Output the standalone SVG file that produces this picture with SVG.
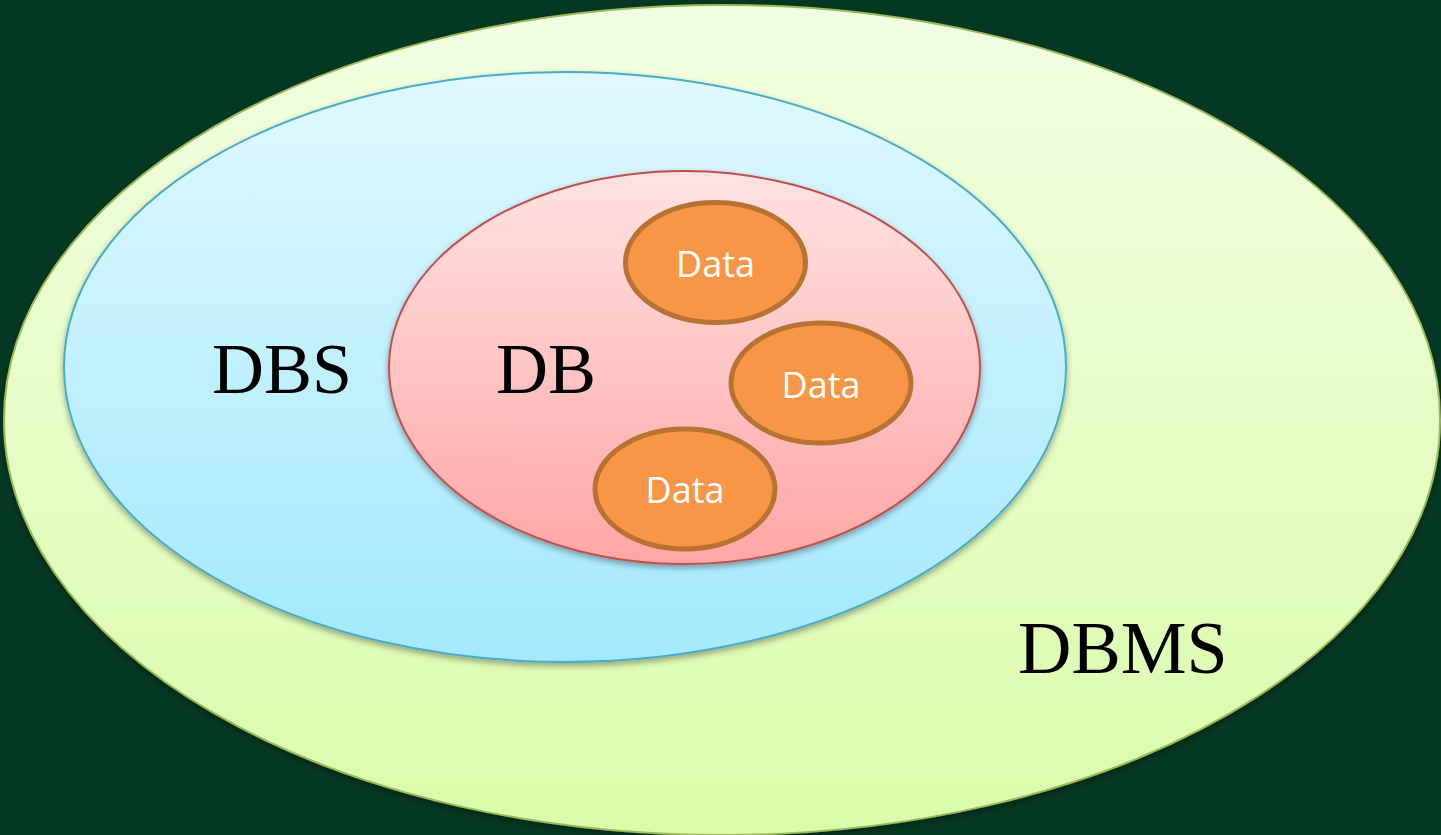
<svg xmlns="http://www.w3.org/2000/svg" width="1441" height="835" viewBox="0 0 1441 835">
<defs>
<linearGradient id="gOuter" x1="0" y1="0" x2="0" y2="1">
<stop offset="0" stop-color="#f2fee3"/>
<stop offset="1" stop-color="#dafcaa"/>
</linearGradient>
<linearGradient id="gBlue" x1="0" y1="0" x2="0" y2="1">
<stop offset="0" stop-color="#e0f8ff"/>
<stop offset="1" stop-color="#a3e9fd"/>
</linearGradient>
<linearGradient id="gRed" x1="0" y1="0" x2="0" y2="1">
<stop offset="0" stop-color="#ffe2e2"/>
<stop offset="1" stop-color="#ffa6a6"/>
</linearGradient>
<filter id="sh" x="-10%" y="-10%" width="120%" height="125%">
<feDropShadow dx="0" dy="3" stdDeviation="3" flood-color="#000" flood-opacity="0.35"/>
</filter>
<style>
.lbl{font-family:"Liberation Serif","Times New Roman",serif;fill:#000;}
.data{fill:#f79646;stroke:#b87333;stroke-width:5;}
.dtxt{font-family:"Open Sans","Liberation Sans",sans-serif;font-size:36px;fill:#fff;text-anchor:middle;}
</style>
</defs>
<rect width="1441" height="835" fill="#053822"/>
<g id="dbms">
<ellipse cx="722" cy="420" rx="718" ry="415" fill="url(#gOuter)" stroke="#9bbb59" stroke-width="2" filter="url(#sh)"/>
<text class="lbl" x="1018" y="673" font-size="74">DBMS</text>
</g>
<g id="dbs">
<ellipse cx="565" cy="367" rx="501" ry="295" fill="url(#gBlue)" stroke="#4bacc6" stroke-width="2" filter="url(#sh)"/>
<text class="lbl" x="212" y="393" font-size="72">DBS</text>
</g>
<g id="db">
<ellipse cx="684.5" cy="367.5" rx="295.5" ry="196.5" fill="url(#gRed)" stroke="#c0504d" stroke-width="2" filter="url(#sh)"/>
<text class="lbl" x="496" y="393" font-size="72">DB</text>
</g>
<g id="data1">
<ellipse class="data" cx="715.5" cy="262.5" rx="90" ry="60"/>
<text class="dtxt" x="715.5" y="277">Data</text>
</g>
<g id="data2">
<ellipse class="data" cx="821" cy="383" rx="90" ry="60"/>
<text class="dtxt" x="821" y="398">Data</text>
</g>
<g id="data3">
<ellipse class="data" cx="685" cy="489" rx="90" ry="60"/>
<text class="dtxt" x="685" y="503">Data</text>
</g>
<g id="connectors"/>
</svg>
